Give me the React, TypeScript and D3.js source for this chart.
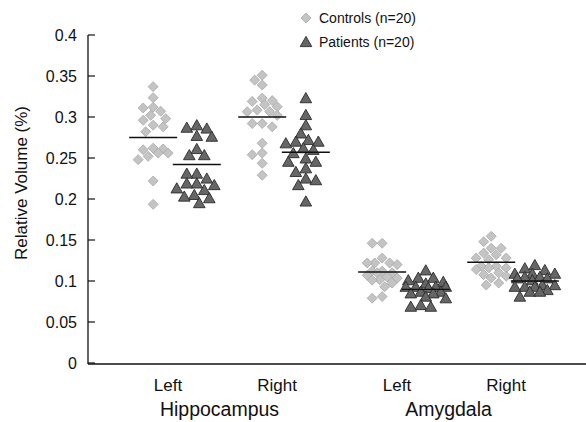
import React from "react";
import * as d3 from "d3";

const structures = ["Hippocampus", "Amygdala"];
const sides = ["Left", "Right"];
const groups = ["Controls (n=20)", "Patients (n=20)"];
const yTicks = [0, 0.05, 0.1, 0.15, 0.2, 0.25, 0.3, 0.35, 0.4];

const hippoLeftControls = [0.337, 0.3235, 0.312, 0.311, 0.307, 0.302, 0.298, 0.296, 0.29, 0.288, 0.282, 0.26, 0.256, 0.262, 0.256, 0.261, 0.248, 0.252, 0.222, 0.1935];
const hippoLeftPatients = [0.286, 0.29, 0.287, 0.276, 0.277, 0.261, 0.2535, 0.2535, 0.231, 0.231, 0.225, 0.219, 0.219, 0.217, 0.213, 0.211, 0.203, 0.205, 0.195, 0.201];
const hippoRightControls = [0.345, 0.351, 0.339, 0.319, 0.3125, 0.323, 0.315, 0.32, 0.3065, 0.3065, 0.3085, 0.302, 0.292, 0.288, 0.292, 0.268, 0.254, 0.2435, 0.256, 0.229];
const hippoRightPatients = [0.323, 0.3025, 0.29, 0.28, 0.272, 0.27, 0.27, 0.268, 0.262, 0.26, 0.256, 0.2455, 0.2495, 0.2455, 0.2375, 0.233, 0.223, 0.225, 0.217, 0.197];
const amygLeftControls = [0.146, 0.146, 0.128, 0.122, 0.12, 0.122, 0.122, 0.112, 0.11, 0.112, 0.11, 0.107, 0.105, 0.1035, 0.1015, 0.101, 0.0975, 0.093, 0.081, 0.079];
const amygLeftPatients = [0.113, 0.104, 0.104, 0.101, 0.099, 0.097, 0.093, 0.093, 0.093, 0.093, 0.0915, 0.087, 0.087, 0.085, 0.085, 0.081, 0.079, 0.0707, 0.0687, 0.0687];
const amygRightControls = [0.1545, 0.148, 0.14, 0.14, 0.134, 0.132, 0.128, 0.128, 0.126, 0.118, 0.118, 0.116, 0.116, 0.114, 0.11, 0.1077, 0.1057, 0.1037, 0.0975, 0.095];
const amygRightPatients = [0.1195, 0.1155, 0.1134, 0.109, 0.109, 0.109, 0.105, 0.105, 0.1033, 0.1033, 0.101, 0.095, 0.095, 0.093, 0.093, 0.093, 0.089, 0.087, 0.087, 0.081];

const meanHippoLeft = [0.275, 0.242];
const meanHippoRight = [0.3, 0.257];
const meanAmygLeft = [0.111, 0.0898];
const meanAmygRight = [0.1228, 0.1];

const W = 586;
const H = 422;
const FONT = "'Liberation Sans', Arial, Helvetica, sans-serif";

const series = [
  { structure: "Hippocampus", side: "Left", values: [hippoLeftControls, hippoLeftPatients], means: meanHippoLeft },
  { structure: "Hippocampus", side: "Right", values: [hippoRightControls, hippoRightPatients], means: meanHippoRight },
  { structure: "Amygdala", side: "Left", values: [amygLeftControls, amygLeftPatients], means: meanAmygLeft },
  { structure: "Amygdala", side: "Right", values: [amygRightControls, amygRightPatients], means: meanAmygRight },
];

const diamondPath = "M0,-5L5,0L0,5L-5,0Z";
const trianglePath = "M0,-5.6L5.8,4.6L-5.8,4.6Z";

function swarm(values: number[], y: (v: number) => number, minDist: number, step: number, maxSpread: number) {
  const sorted = values.map((v, i) => ({ v, i })).sort((a, b) => b.v - a.v);
  const placed: { x: number; y: number }[] = [];
  const nK = Math.floor(maxSpread / step);
  sorted.forEach((d, idx) => {
    const py = y(d.v);
    const cands: number[] = [0];
    const sign = idx % 2 === 0 ? 1 : -1;
    for (let k = 1; k <= nK; k++) cands.push(sign * k * step, -sign * k * step);
    let chosen: number | null = null;
    let best = 0;
    let bestD = -1;
    for (const cx of cands) {
      const nd = placed.length ? Math.min(...placed.map((p) => Math.hypot(p.x - cx, p.y - py))) : Infinity;
      if (nd >= minDist) {
        chosen = cx;
        break;
      }
      if (nd > bestD) {
        bestD = nd;
        best = cx;
      }
    }
    placed.push({ x: chosen === null ? best : chosen, y: py });
  });
  return placed;
}

export default function App() {
  const y = d3.scaleLinear().domain([0, 0.4]).range([363, 35]);
  const xOuter = d3.scaleBand().domain(structures).range([115, 573]);
  const xSide = d3.scaleBand().domain(sides).range([0, xOuter.bandwidth()]).paddingOuter(0.05);
  const xGroup = d3.scaleBand().domain(groups).range([0, xSide.bandwidth()]).paddingOuter(0.25);
  const labelShift = -7;

  const groupCenter = (s: string, side: string, g: string) =>
    (xOuter(s) as number) + (xSide(side) as number) + (xGroup(g) as number) + xGroup.bandwidth() / 2;
  const sideCenter = (s: string, side: string) =>
    (xOuter(s) as number) + (xSide(side) as number) + xSide.bandwidth() / 2;

  const axisX = 88;
  const axisY = y(0) + 1;

  return (
    <svg width={W} height={H} style={{ position: "absolute", left: 0, top: 0, background: "#fff" }} fontFamily={FONT}>
      <rect x={0} y={0} width={W} height={H} fill="#fff" />
      <line x1={axisX} x2={axisX} y1={y(0.4)} y2={axisY} stroke="#111" strokeWidth={1.3} />
      <line x1={axisX} x2={W} y1={axisY} y2={axisY} stroke="#111" strokeWidth={1.3} />
      {yTicks.map((t) => (
        <g key={t}>
          <line x1={axisX} x2={axisX + 7} y1={y(t)} y2={y(t)} stroke="#111" strokeWidth={1.2} />
          <text x={77} y={y(t)} dy="0.36em" textAnchor="end" fontSize={16} fill="#111">
            {String(t)}
          </text>
        </g>
      ))}
      <text
        transform={`translate(21,${(y(0.4) + y(0)) / 2 - 16}) rotate(-90)`}
        textAnchor="middle"
        dy="0.36em"
        fontSize={17}
        fill="#111"
      >
        Relative Volume (%)
      </text>

      {structures.map((s) => (
        <g key={s}>
          {sides.map((side) => (
            <text key={side} x={sideCenter(s, side) + labelShift} y={391} textAnchor="middle" fontSize={17} fill="#111">
              {side}
            </text>
          ))}
          <text x={(xOuter(s) as number) + xOuter.bandwidth() / 2 + labelShift - 3} y={416} textAnchor="middle" fontSize={19.5} fill="#111">
            {s}
          </text>
        </g>
      ))}

      {series.map((sr) =>
        groups.map((g, gi) => {
          const cx = groupCenter(sr.structure, sr.side, g);
          const pts = swarm(sr.values[gi], y, gi === 0 ? 8.5 : 9.5, 2.5, gi === 0 ? 17 : 21);
          return (
            <g key={sr.structure + sr.side + g}>
              {pts.map((p, i) =>
                gi === 0 ? (
                  <path key={i} d={diamondPath} transform={`translate(${cx + p.x},${p.y})`} fill="#c4c4c4" stroke="#a9a9a9" strokeWidth={0.8} />
                ) : (
                  <path key={i} d={trianglePath} transform={`translate(${cx + p.x},${p.y})`} fill="#666" stroke="#2b2b2b" strokeWidth={0.9} />
                )
              )}
            </g>
          );
        })
      )}
      {series.map((sr) =>
        groups.map((g, gi) => {
          const cx = groupCenter(sr.structure, sr.side, g);
          return (
            <line
              key={"m" + sr.structure + sr.side + g}
              x1={cx - 24}
              x2={cx + 24}
              y1={y(sr.means[gi])}
              y2={y(sr.means[gi])}
              stroke="#111"
              strokeWidth={1.4}
            />
          );
        })
      )}

      <path d={diamondPath} transform="translate(306,18)" fill="#c4c4c4" stroke="#a9a9a9" strokeWidth={0.8} />
      <text x={319} y={18} dy="0.36em" fontSize={14} fill="#111">{groups[0]}</text>
      <path d={trianglePath} transform="translate(306,42)" fill="#666" stroke="#2b2b2b" strokeWidth={0.9} />
      <text x={319} y={42} dy="0.36em" fontSize={14} fill="#111">{groups[1]}</text>
    </svg>
  );
}
